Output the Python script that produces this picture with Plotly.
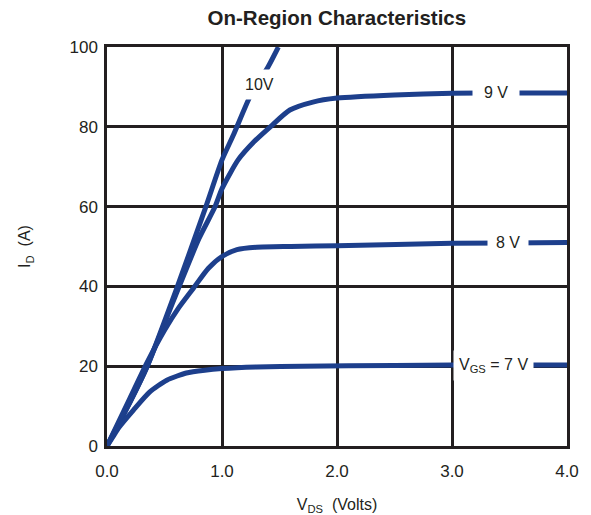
import plotly.graph_objects as go

# ---- data ----
vds_10 = [0, 0.2, 0.35, 0.6, 0.86, 1.0, 1.1, 1.25, 1.4, 1.49]
id_10 = [0, 11, 20, 39, 60, 71.7, 78, 88, 95, 100]

vds_9 = [0, 0.2, 0.35, 0.6, 0.8, 0.94, 1.0, 1.14, 1.28, 1.42, 1.59, 1.79, 2.0, 2.5, 3.0, 3.5, 4.0]
id_9 = [0, 11, 20, 38, 52, 60, 64.5, 71.7, 76.3, 80, 84.2, 86.2, 87.2, 88.0, 88.4, 88.5, 88.5]

vds_8 = [0, 0.2, 0.35, 0.5, 0.62, 0.75, 0.88, 1.0, 1.13, 1.3, 1.6, 2.0, 3.0, 4.0]
id_8 = [0, 12, 21, 29, 34.5, 39.5, 44.5, 47.5, 49.2, 49.8, 50, 50.2, 50.8, 51]

vds_7 = [0, 0.05, 0.1, 0.23, 0.37, 0.52, 0.69, 0.85, 1.0, 1.3, 1.7, 2.5, 3.0, 4.0]
id_7 = [0, 2.2, 4.5, 9, 13.5, 16.5, 18.3, 19, 19.4, 19.8, 20, 20.2, 20.3, 20.3]

curve_labels = ["10V", "9 V", "8 V", "V<sub>GS</sub> = 7 V"]
label_x = [1.33, 3.38, 3.49, 3.36]
label_y = [90.7, 88.5, 50.9, 20.3]
label_pad = [6, 11, 8, 5]

x_ticks = [0, 1, 2, 3, 4]
y_ticks = [0, 20, 40, 60, 80, 100]

LINE = "#1d3f8c"
INK = "#231f20"
FONT = "Liberation Sans, Arial, sans-serif"

fig = go.Figure()
for xs, ys in [(vds_10, id_10), (vds_9, id_9), (vds_8, id_8), (vds_7, id_7)]:
    fig.add_trace(go.Scatter(x=xs, y=ys, mode="lines",
                             line=dict(color=LINE, width=5, shape="spline", smoothing=0.6),
                             showlegend=False, hoverinfo="skip"))

for t, x, y, p in zip(curve_labels, label_x, label_y, label_pad):
    fig.add_annotation(x=x, y=y, text=t, showarrow=False, bgcolor="white",
                       borderpad=p, font=dict(family=FONT, size=16, color=INK))

fig.update_layout(
    width=591, height=515,
    margin=dict(l=107, r=24, t=47, b=69),
    paper_bgcolor="white", plot_bgcolor="white",
    title=dict(text="<b>On-Region Characteristics</b>", x=0.57, xanchor="center",
               y=0.965, yanchor="middle",
               font=dict(family=FONT, size=20.5, color=INK)),
    font=dict(family=FONT, size=17, color=INK),
)
fig.update_xaxes(range=[0, 4], tickvals=x_ticks, tickformat=".1f", automargin=False,
                 showgrid=True, gridcolor=INK, gridwidth=2.5, zeroline=False,
                 showline=True, linecolor=INK, linewidth=2.5, mirror=True,
                 ticks="outside", ticklen=8, tickcolor="white",
                 title=dict(text="V<sub>DS</sub>  (Volts)", standoff=21,
                            font=dict(family=FONT, size=16, color=INK)))
fig.update_yaxes(range=[0, 100], tickvals=y_ticks, automargin=False,
                 showgrid=True, gridcolor=INK, gridwidth=2.5, zeroline=False,
                 showline=True, linecolor=INK, linewidth=2.5, mirror=True,
                 ticks="outside", ticklen=3, tickcolor="white",
                 title=dict(text="I<sub>D</sub>  (A)", standoff=35,
                            font=dict(family=FONT, size=16, color=INK)))

fig.write_html("out.html", config={"displayModeBar": False},
               post_script="document.body.style.margin='0';")
